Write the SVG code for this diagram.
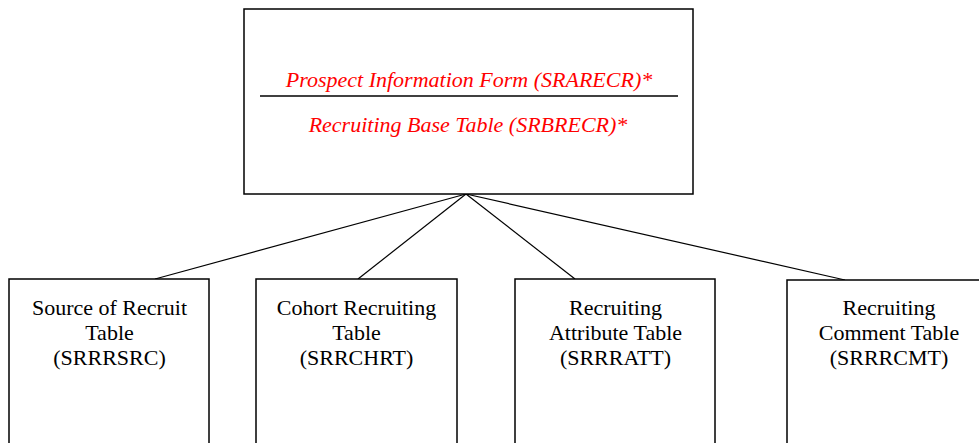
<svg xmlns="http://www.w3.org/2000/svg" width="979" height="443" viewBox="0 0 979 443">
<style>
.box{fill:#fff;stroke:#000;stroke-width:1.5}
.t{font-family:"Liberation Serif","Times New Roman",serif;font-size:22px;fill:#000;text-anchor:middle}
.r{font-family:"Liberation Serif","Times New Roman",serif;font-size:22px;font-style:italic;fill:#ff0000;text-anchor:middle}
.c{stroke:#000;stroke-width:1.2;fill:none}
</style>
<rect width="979" height="443" fill="#fff"/>
<g id="connectors">
<line class="c" x1="466" y1="194" x2="155" y2="279"/>
<line class="c" x1="466" y1="194" x2="358" y2="279"/>
<line class="c" x1="466" y1="194" x2="575" y2="279"/>
<line class="c" x1="466" y1="194" x2="845" y2="280"/>
</g>
<g id="top">
<rect class="box" x="244" y="9" width="449" height="185"/>
<line x1="260" y1="96" x2="678" y2="96" stroke="#000" stroke-width="1.5"/>
<text class="r" x="469" y="87">Prospect Information Form (SRARECR)*</text>
<text class="r" x="468" y="132">Recruiting Base Table (SRBRECR)*</text>
</g>
<g id="n1">
<rect class="box" x="9" y="279" width="200" height="180"/>
<text class="t" x="109.5" y="315">Source of Recruit</text>
<text class="t" x="109.5" y="340">Table</text>
<text class="t" x="109.5" y="365">(SRRRSRC)</text>
</g>
<g id="n2">
<rect class="box" x="256" y="279" width="201" height="180"/>
<text class="t" x="356.5" y="315">Cohort Recruiting</text>
<text class="t" x="356.5" y="340">Table</text>
<text class="t" x="356.5" y="365">(SRRCHRT)</text>
</g>
<g id="n3">
<rect class="box" x="515" y="279" width="200" height="180"/>
<text class="t" x="615.5" y="315">Recruiting</text>
<text class="t" x="615.5" y="340">Attribute Table</text>
<text class="t" x="615.5" y="365">(SRRRATT)</text>
</g>
<g id="n4">
<rect class="box" x="787" y="280" width="200" height="180"/>
<text class="t" x="889" y="315">Recruiting</text>
<text class="t" x="889" y="340">Comment Table</text>
<text class="t" x="889" y="365">(SRRRCMT)</text>
</g>
</svg>
